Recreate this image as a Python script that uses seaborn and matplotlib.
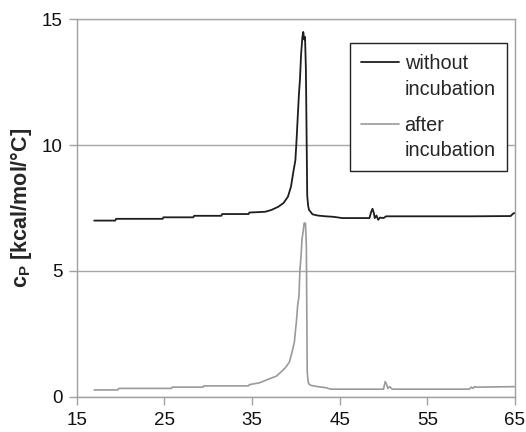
import matplotlib
matplotlib.use("Agg")
import matplotlib.pyplot as plt
import seaborn as sns
import pandas as pd
from matplotlib.legend_handler import HandlerLine2D

# ---- data ----
temp_without = [17, 19.4, 19.5, 24.8, 24.9, 28.3, 28.4, 31.5, 31.6, 34.6, 34.7, 36.5,
                37.2, 38.0, 38.6, 39.1, 39.45, 39.7, 39.95, 40.1, 40.2, 40.35, 40.47,
                40.6, 40.75, 40.85, 40.95, 41.05, 41.15, 41.3, 41.4, 41.5, 41.9, 42.5,
                43.4, 44.3, 45.3, 48.4, 48.6, 48.75, 48.9, 49.0, 49.2, 49.4, 49.6, 50.0,
                50.3, 60.0, 64.5, 64.8, 65.0]
cp_without = [7.00, 7.00, 7.07, 7.07, 7.13, 7.13, 7.19, 7.19, 7.26, 7.26, 7.32, 7.35,
              7.42, 7.55, 7.70, 7.95, 8.35, 8.90, 9.40, 10.3, 11.0, 12.0, 12.6,
              13.6, 14.3, 14.5, 14.2, 14.3, 13.0, 8.0, 7.6, 7.43, 7.25, 7.20,
              7.17, 7.15, 7.10, 7.10, 7.35, 7.47, 7.30, 7.10, 7.20, 7.03, 7.12, 7.10,
              7.17, 7.17, 7.18, 7.28, 7.30]

temp_after = [17, 19.7, 19.8, 25.8, 25.9, 29.4, 29.5, 34.6, 34.7, 35.84, 36.98, 37.8,
              38.3, 38.8, 39.26, 39.55, 39.83, 40.09, 40.2, 40.36, 40.47, 40.6, 40.7,
              40.85, 40.95, 41.1, 41.2, 41.3, 41.4, 41.5, 41.73, 42.5, 43.4, 44.0,
              50.0, 50.1, 50.2, 50.35, 50.5, 50.7, 51.0, 59.8, 60.0, 60.2, 60.4,
              60.6, 65.0]
cp_after = [0.27, 0.27, 0.33, 0.33, 0.38, 0.38, 0.43, 0.43, 0.48, 0.55, 0.71, 0.82,
            0.98, 1.15, 1.37, 1.75, 2.16, 3.08, 3.60, 4.00, 5.06, 5.60, 6.25,
            6.60, 6.90, 6.90, 6.00, 1.00, 0.60, 0.50, 0.45, 0.40, 0.36, 0.30,
            0.30, 0.45, 0.60, 0.50, 0.33, 0.40, 0.30, 0.30, 0.38, 0.33, 0.40,
            0.38, 0.40]

series_labels = ["without\nincubation", "after\nincubation"]
x_ticks = [15, 25, 35, 45, 55, 65]
y_ticks = [0, 5, 10, 15]

LEG_FS = 14.3
LEG_LS = 1.42


class TopLineHandler(HandlerLine2D):
    """Place the legend line level with the first text line."""
    def create_artists(self, legend, orig_handle, xdescent, ydescent, width,
                       height, fontsize, trans):
        artists = super().create_artists(legend, orig_handle, xdescent, ydescent,
                                         width, height, fontsize, trans)
        shift = 0.52 * LEG_LS * fontsize
        for a in artists:
            if hasattr(a, "get_ydata"):
                a.set_ydata([y + shift for y in a.get_ydata()])
        return artists


# ---- style ----
sns.set_style("white")
plt.rcParams["font.family"] = ["Liberation Sans", "DejaVu Sans"]
plt.rcParams["mathtext.fontset"] = "custom"
plt.rcParams["mathtext.rm"] = "Liberation Sans"
plt.rcParams["mathtext.bf"] = "Liberation Sans:bold"

fig = plt.figure(figsize=(5.26, 4.32), dpi=100)
ax = fig.add_axes([0.1458, 0.0817, 0.8332, 0.8736])

df1 = pd.DataFrame({"T": temp_without, "cp": cp_without})
df2 = pd.DataFrame({"T": temp_after, "cp": cp_after})
sns.lineplot(data=df1, x="T", y="cp", ax=ax, color="#1e1e1e", lw=1.3,
             estimator=None, sort=False, label=series_labels[0])
sns.lineplot(data=df2, x="T", y="cp", ax=ax, color="#9a9a9a", lw=1.2,
             estimator=None, sort=False, label=series_labels[1])

ax.set_xlim(15, 65)
ax.set_ylim(0, 15)
ax.set_xticks(x_ticks)
ax.set_yticks(y_ticks)
ax.set_xlabel("")
ax.set_ylabel(r"$\mathbf{c}_\mathbf{P}$ [kcal/mol/°C]", fontsize=15.5,
              fontweight="bold")
ax.yaxis.set_label_coords(-0.097, 0.5)

ax.yaxis.grid(True, color="#a8a8a8", lw=1)
ax.xaxis.grid(False)
ax.set_axisbelow(True)
for side in ["left", "bottom", "right", "top"]:
    ax.spines[side].set_color("#a0a0a0")
    ax.spines[side].set_linewidth(1)
ax.spines["top"].set_color("#a8a8a8")
ax.tick_params(axis="both", direction="out", length=6, width=1,
               color="#a0a0a0", labelsize=13.5, labelcolor="#111111")
ax.tick_params(axis="x", pad=5)
ax.tick_params(axis="y", pad=4)
ax.tick_params(left=True, bottom=True)

handles, labels = ax.get_legend_handles_labels()
leg = ax.legend(handles, labels, loc="upper right", bbox_to_anchor=(0.981, 0.936),
                borderaxespad=0, fontsize=LEG_FS, frameon=True, fancybox=False,
                edgecolor="#222222", framealpha=1, handlelength=1.9,
                handletextpad=0.3, labelspacing=0.85, borderpad=0.55,
                handler_map={h: TopLineHandler() for h in handles})
leg.get_frame().set_linewidth(1.0)
for t in leg.get_texts():
    t.set_linespacing(LEG_LS)

fig.savefig("out.png", dpi=100)
